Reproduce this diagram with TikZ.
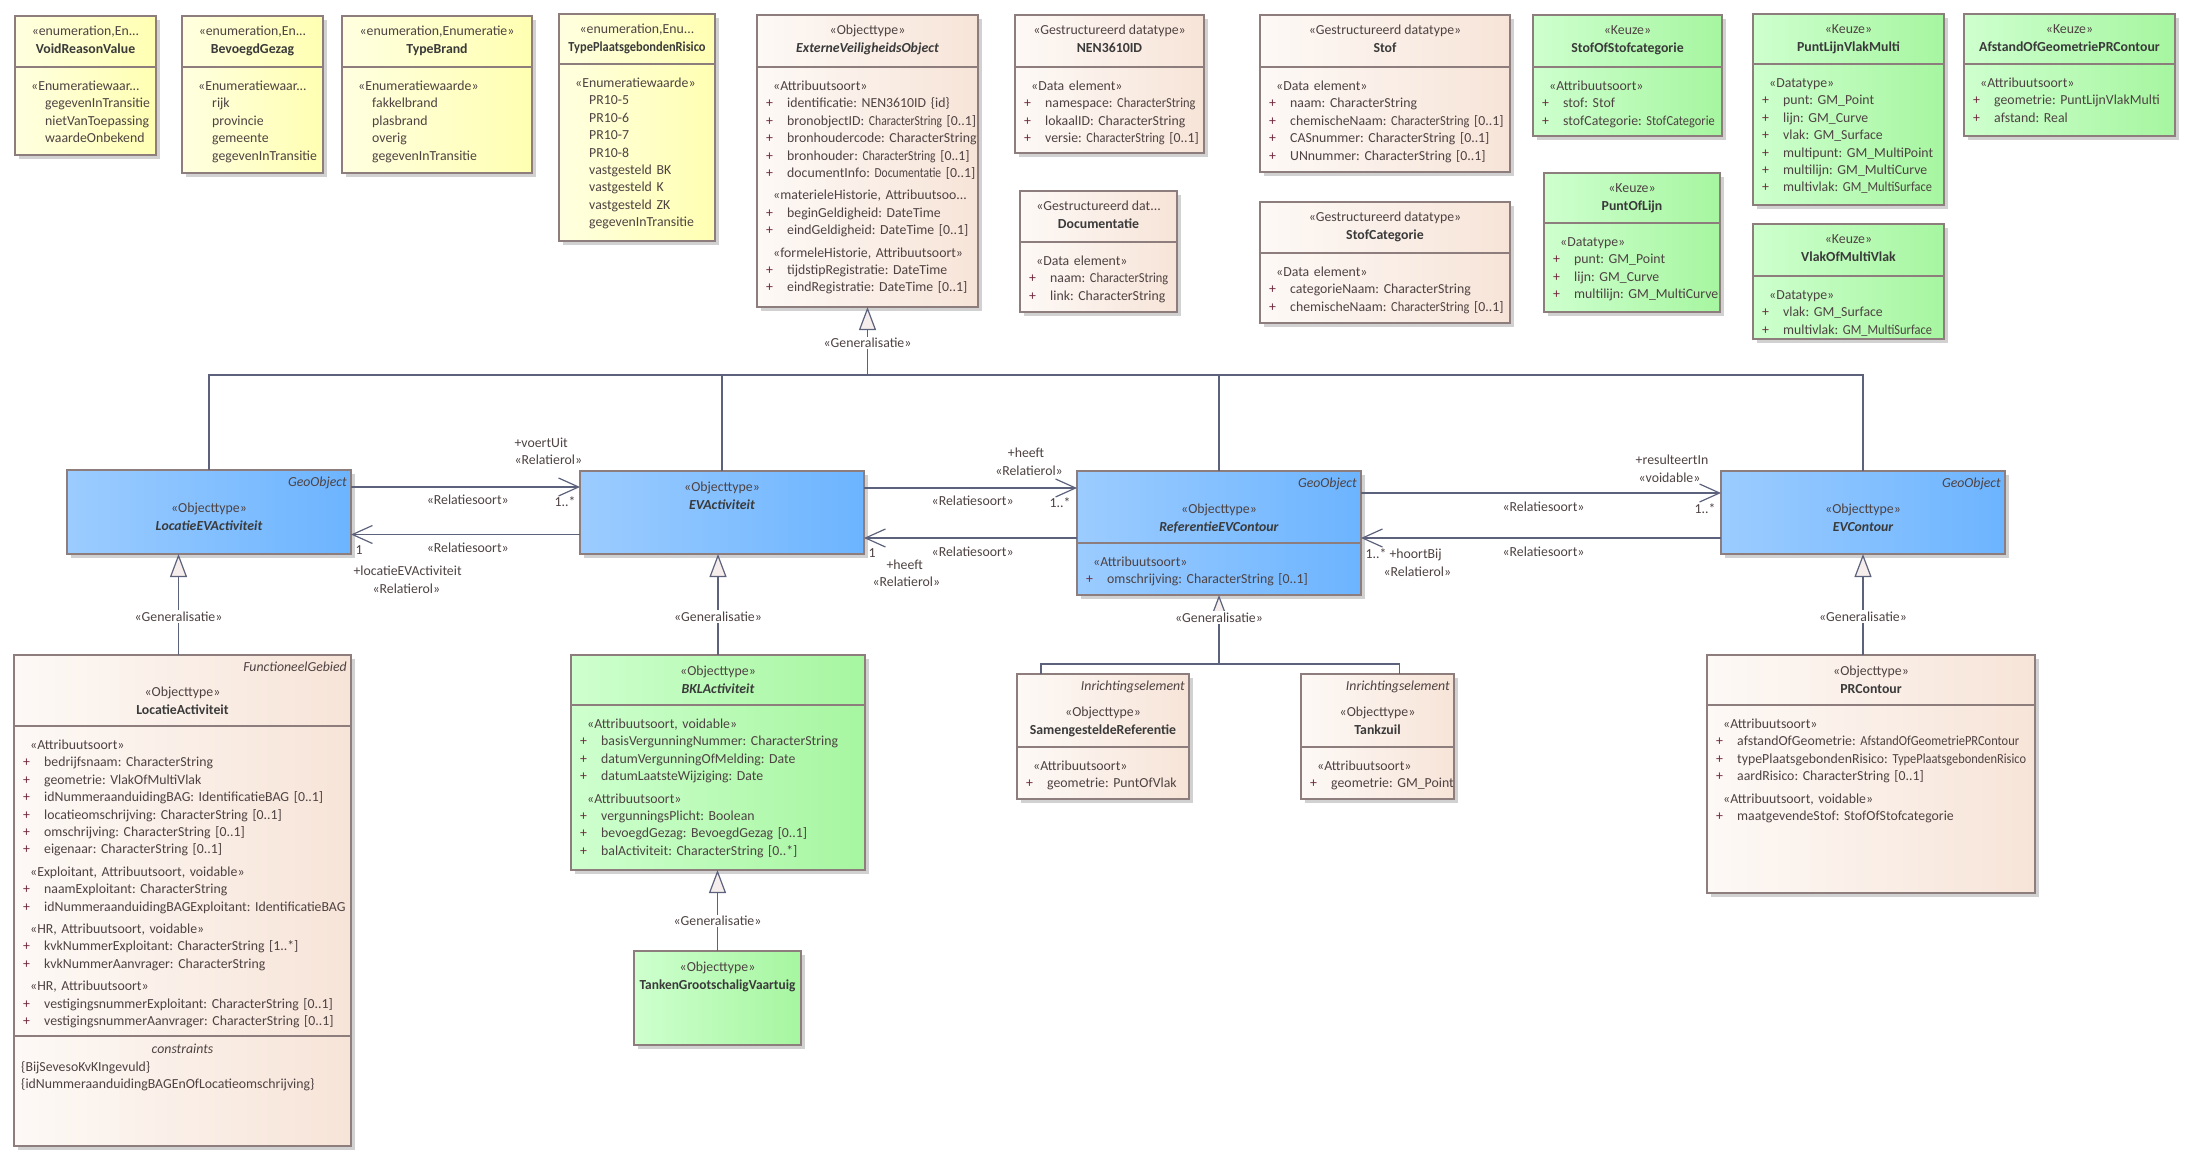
\documentclass[tikz,border=0pt]{standalone}
\usepackage{fontspec}
\setmainfont{Carlito}
\usepackage{graphicx}
\usetikzlibrary{arrows.meta,fit,shadows,positioning}
\frenchspacing

\definecolor{linec}{RGB}{92,98,124}
\definecolor{boxc}{RGB}{142,125,125}
\definecolor{textc}{RGB}{78,66,66}
\definecolor{namec}{RGB}{58,58,58}
\definecolor{plusc}{RGB}{112,40,62}
\definecolor{enumL}{RGB}{255,255,224}
\definecolor{enumR}{RGB}{255,255,178}
\definecolor{dataL}{RGB}{253,249,246}
\definecolor{dataR}{RGB}{247,228,216}
\definecolor{keuzeL}{RGB}{206,255,206}
\definecolor{keuzeR}{RGB}{166,246,160}
\definecolor{geoL}{RGB}{156,204,255}
\definecolor{geoR}{RGB}{108,180,255}
\definecolor{trifill}{RGB}{246,238,236}

% class header: stereotype + name
\newcommand\umlhead[5][cname]{%
  \node[stereo] (#2-s) at ([yshift=-#3pt]#2.north) {#4};
  \node[#1] (#2-n) at ([yshift=-18pt]#2-s.base) {#5};}
\newcommand\umltag[2]{\node[tag] (#1-t) at ([xshift=-4pt,yshift=-16pt]#1.north east) {#2};}
\newcommand\umlsep[2]{\draw[sepline] (#1.west |- 0,#2) -- (#1.east |- 0,#2);}
\newcommand\umlst[1]{\hspace*{7pt}#1}
\newcommand\umlat[1]{\makebox[21pt][l]{\textcolor{plusc}{+}}#1}
\newcommand\umlval[1]{\hspace*{21pt}#1}
\newcommand\sq[2][0.9]{\scalebox{#1}[1]{#2}}

\begin{document}
\begin{tikzpicture}[x=1pt, y=-1pt,
  umlbox/.style={draw=boxc, line width=1.2pt, inner sep=0pt, outer sep=0pt,
    general shadow={fill=black!18, shadow xshift=4pt, shadow yshift=-4pt}},
  enumbox/.style={umlbox, left color=enumL, right color=enumR},
  databox/.style={umlbox, left color=dataL, right color=dataR},
  keuzebox/.style={umlbox, left color=keuzeL, right color=keuzeR},
  geobox/.style={umlbox, left color=geoL, right color=geoR},
  txt/.style={inner sep=0pt, text=textc, font=\fontsize{13.8}{17.4}\selectfont},
  stereo/.style={txt, anchor=base},
  cname/.style={txt, anchor=base, text=namec, font=\fontsize{13.8}{17.4}\selectfont\bfseries},
  aname/.style={cname, font=\fontsize{13.8}{17.4}\selectfont\bfseries\itshape},
  tag/.style={txt, anchor=base east, font=\fontsize{13.8}{17.4}\selectfont\itshape},
  body/.style={txt, anchor=base west, text width=400pt, align=left},
  sepline/.style={draw=boxc, line width=1.2pt},
  genline/.style={draw=linec, line width=1.2pt},
  gen/.style={genline, -{Triangle[length=23pt, width=17pt, fill=trifill]}},
  assoc/.style={draw=linec, line width=1.2pt, -{Straight Barb[length=20pt, width=18pt]}},
  lbl/.style={txt, anchor=base},
  gl/.style={txt, fill=white, inner sep=1.5pt}
]
\fill[white, use as bounding box] (0,0) rectangle (2195,1174);

% enumerations
\node[enumbox, fit={(15,16) (156,155)}] (vrv) {};
\umlhead{vrv}{20}{«enumeration,En...}{VoidReasonValue}
\umlsep{vrv}{67}
\node[body] (vrv-b) at (24,90.5) {\umlst{«Enumeratiewaar...}\\
  \umlval{gegevenInTransitie}\\ \umlval{nietVanToepassing}\\ \umlval{waardeOnbekend}};

\node[enumbox, fit={(182,16) (323,173)}] (bg) {};
\umlhead{bg}{20}{«enumeration,En...}{BevoegdGezag}
\umlsep{bg}{67}
\node[body] (bg-b) at (191,90.5) {\umlst{«Enumeratiewaar...}\\
  \umlval{rijk}\\ \umlval{provincie}\\ \umlval{gemeente}\\ \umlval{gegevenInTransitie}};

\node[enumbox, fit={(342,16) (532,173)}] (tb) {};
\umlhead{tb}{20}{«enumeration,Enumeratie»}{TypeBrand}
\umlsep{tb}{67}
\node[body] (tb-b) at (351,90.5) {\umlst{«Enumeratiewaarde»}\\
  \umlval{fakkelbrand}\\ \umlval{plasbrand}\\ \umlval{overig}\\ \umlval{gegevenInTransitie}};

\node[enumbox, fit={(559,14) (715,241)}] (tpr) {};
\umlhead{tpr}{20}{«enumeration,Enu...}{\sq{TypePlaatsgebondenRisico}}
\umlsep{tpr}{64}
\node[body] (tpr-b) at (568,87.5) {\umlst{«Enumeratiewaarde»}\\
  \umlval{PR10-5}\\ \umlval{PR10-6}\\ \umlval{PR10-7}\\ \umlval{PR10-8}\\
  \umlval{vastgesteld BK}\\ \umlval{vastgesteld K}\\ \umlval{vastgesteld ZK}\\
  \umlval{gegevenInTransitie}};

% datatypes
\node[databox, fit={(757,15) (978,307)}] (evo) {};
\umlhead[aname]{evo}{20}{«Objecttype»}{ExterneVeiligheidsObject}
\umlsep{evo}{67}
\node[body] (evo-b) at (766,90.5) {\umlst{«Attribuutsoort»}\\
  \umlat{identificatie: NEN3610ID \{id\}}\\
  \umlat{bronobjectID: \sq[0.84]{CharacterString} [0..1]}\\
  \umlat{bronhoudercode: CharacterString}\\
  \umlat{bronhouder: \sq[0.84]{CharacterString} [0..1]}\\
  \umlat{documentInfo: \sq[0.84]{Documentatie} [0..1]}\\[5pt]
  \umlst{«materieleHistorie, Attribuutsoo...}\\
  \umlat{beginGeldigheid: DateTime}\\
  \umlat{eindGeldigheid: DateTime [0..1]}\\[5pt]
  \umlst{«formeleHistorie, Attribuutsoort»}\\
  \umlat{tijdstipRegistratie: DateTime}\\
  \umlat{eindRegistratie: DateTime [0..1]}};

\node[databox, fit={(1015,15) (1204,153)}] (nen) {};
\umlhead{nen}{20}{«Gestructureerd datatype»}{NEN3610ID}
\umlsep{nen}{67}
\node[body] (nen-b) at (1024,90.5) {\umlst{«Data element»}\\
  \umlat{namespace: \sq{CharacterString}}\\ \umlat{lokaalID: CharacterString}\\
  \umlat{versie: \sq{CharacterString} [0..1]}};

\node[databox, fit={(1020,191) (1177,312)}] (doc) {};
\umlhead{doc}{20}{«Gestructureerd dat...}{Documentatie}
\umlsep{doc}{242}
\node[body] (doc-b) at (1029,265.5) {\umlst{«Data element»}\\
  \umlat{naam: \sq{CharacterString}}\\ \umlat{link: CharacterString}};

\node[databox, fit={(1260,15) (1510,172)}] (stof) {};
\umlhead{stof}{20}{«Gestructureerd datatype»}{Stof}
\umlsep{stof}{67}
\node[body] (stof-b) at (1269,90.5) {\umlst{«Data element»}\\
  \umlat{naam: CharacterString}\\ \umlat{chemischeNaam: \sq{CharacterString} [0..1]}\\
  \umlat{CASnummer: CharacterString [0..1]}\\ \umlat{UNnummer: CharacterString [0..1]}};

\node[databox, fit={(1260,202) (1510,323)}] (stcat) {};
\umlhead{stcat}{20}{«Gestructureerd datatype»}{StofCategorie}
\umlsep{stcat}{253}
\node[body] (stcat-b) at (1269,276.5) {\umlst{«Data element»}\\
  \umlat{categorieNaam: CharacterString}\\ \umlat{chemischeNaam: \sq{CharacterString} [0..1]}};

% keuze
\node[keuzebox, fit={(1533,15) (1722,136)}] (soc) {};
\umlhead{soc}{20}{«Keuze»}{StofOfStofcategorie}
\umlsep{soc}{67}
\node[body] (soc-b) at (1542,90.5) {\umlst{«Attribuutsoort»}\\
  \umlat{stof: Stof}\\ \umlat{stofCategorie: \sq{StofCategorie}}};

\node[keuzebox, fit={(1544,173) (1720,312)}] (pol) {};
\umlhead{pol}{20}{«Keuze»}{PuntOfLijn}
\umlsep{pol}{223}
\node[body] (pol-b) at (1553,246.5) {\umlst{«Datatype»}\\
  \umlat{punt: GM\_Point}\\ \umlat{lijn: GM\_Curve}\\ \umlat{multilijn: GM\_MultiCurve}};

\node[keuzebox, fit={(1753,14) (1944,205)}] (plvm) {};
\umlhead{plvm}{20}{«Keuze»}{PuntLijnVlakMulti}
\umlsep{plvm}{64}
\node[body] (plvm-b) at (1762,87.5) {\umlst{«Datatype»}\\
  \umlat{punt: GM\_Point}\\ \umlat{lijn: GM\_Curve}\\ \umlat{vlak: GM\_Surface}\\
  \umlat{multipunt: GM\_MultiPoint}\\ \umlat{multilijn: GM\_MultiCurve}\\
  \umlat{multivlak: \sq{GM\_MultiSurface}}};

\node[keuzebox, fit={(1753,224) (1944,339)}] (vomv) {};
\umlhead{vomv}{20}{«Keuze»}{VlakOfMultiVlak}
\umlsep{vomv}{276}
\node[body] (vomv-b) at (1762,299.5) {\umlst{«Datatype»}\\
  \umlat{vlak: GM\_Surface}\\ \umlat{multivlak: \sq{GM\_MultiSurface}}};

\node[keuzebox, fit={(1964,14) (2175,136)}] (agpr) {};
\umlhead{agpr}{20}{«Keuze»}{AfstandOfGeometriePRContour}
\umlsep{agpr}{64}
\node[body] (agpr-b) at (1973,87.5) {\umlst{«Attribuutsoort»}\\
  \umlat{geometrie: PuntLijnVlakMulti}\\ \umlat{afstand: Real}};

% geo objects
\node[geobox, fit={(67,470) (351,554)}] (leva) {};
\umltag{leva}{GeoObject}
\umlhead[aname]{leva}{42}{«Objecttype»}{LocatieEVActiviteit}

\node[geobox, fit={(580,471) (864,554)}] (eva) {};
\umlhead[aname]{eva}{20}{«Objecttype»}{EVActiviteit}

\node[geobox, fit={(1077,471) (1361,595)}] (refc) {};
\umltag{refc}{GeoObject}
\umlhead[aname]{refc}{42}{«Objecttype»}{ReferentieEVContour}
\umlsep{refc}{543}
\node[body] (refc-b) at (1086,566.5) {\umlst{«Attribuutsoort»}\\
  \umlat{omschrijving: CharacterString [0..1]}};

\node[geobox, fit={(1721,471) (2005,554)}] (evc) {};
\umltag{evc}{GeoObject}
\umlhead[aname]{evc}{42}{«Objecttype»}{EVContour}

% lower row
\node[databox, fit={(14,655) (351,1146)}] (la) {};
\umltag{la}{FunctioneelGebied}
\umlhead{la}{41}{«Objecttype»}{LocatieActiviteit}
\umlsep{la}{726}
\umlsep{la}{1036}
\node[body] (la-b) at (23,749.5) {\umlst{«Attribuutsoort»}\\
  \umlat{bedrijfsnaam: CharacterString}\\
  \umlat{geometrie: VlakOfMultiVlak}\\
  \umlat{idNummeraanduidingBAG: IdentificatieBAG [0..1]}\\
  \umlat{locatieomschrijving: CharacterString [0..1]}\\
  \umlat{omschrijving: CharacterString [0..1]}\\
  \umlat{eigenaar: CharacterString [0..1]}\\[5pt]
  \umlst{«Exploitant, Attribuutsoort, voidable»}\\
  \umlat{naamExploitant: CharacterString}\\
  \umlat{idNummeraanduidingBAGExploitant: IdentificatieBAG}\\[5pt]
  \umlst{«HR, Attribuutsoort, voidable»}\\
  \umlat{kvkNummerExploitant: CharacterString [1..*]}\\
  \umlat{kvkNummerAanvrager: CharacterString}\\[5pt]
  \umlst{«HR, Attribuutsoort»}\\
  \umlat{vestigingsnummerExploitant: CharacterString [0..1]}\\
  \umlat{vestigingsnummerAanvrager: CharacterString [0..1]}};
\node[stereo, font=\fontsize{13.8}{17.4}\selectfont\itshape] (la-c) at ([yshift=-17pt]la.center |- 0,1036) {constraints};
\node[body] (la-k) at (21,1071) {\{BijSevesoKvKIngevuld\}\\
  \{idNummeraanduidingBAGEnOfLocatieomschrijving\}};

\node[keuzebox, fit={(571,655) (865,870)}] (bkl) {};
\umlhead[aname]{bkl}{20}{«Objecttype»}{BKLActiviteit}
\umlsep{bkl}{705}
\node[body] (bkl-b) at (580,728.5) {\umlst{«Attribuutsoort, voidable»}\\
  \umlat{basisVergunningNummer: CharacterString}\\
  \umlat{datumVergunningOfMelding: Date}\\
  \umlat{datumLaatsteWijziging: Date}\\[5pt]
  \umlst{«Attribuutsoort»}\\
  \umlat{vergunningsPlicht: Boolean}\\
  \umlat{bevoegdGezag: BevoegdGezag [0..1]}\\
  \umlat{balActiviteit: CharacterString [0..*]}};

\node[keuzebox, fit={(634,951) (801,1045)}] (tgv) {};
\umlhead{tgv}{20}{«Objecttype»}{\sq[0.97]{TankenGrootschaligVaartuig}}

\node[databox, fit={(1017,674) (1189,799)}] (sr) {};
\umltag{sr}{Inrichtingselement}
\umlhead{sr}{42}{«Objecttype»}{SamengesteldeReferentie}
\umlsep{sr}{747}
\node[body] (sr-b) at (1026,770.5) {\umlst{«Attribuutsoort»}\\
  \umlat{geometrie: PuntOfVlak}};

\node[databox, fit={(1301,674) (1454,799)}] (tz) {};
\umltag{tz}{Inrichtingselement}
\umlhead{tz}{42}{«Objecttype»}{Tankzuil}
\umlsep{tz}{747}
\node[body] (tz-b) at (1310,770.5) {\umlst{«Attribuutsoort»}\\
  \umlat{geometrie: GM\_Point}};

\node[databox, fit={(1707,655) (2035,893)}] (prc) {};
\umlhead{prc}{20}{«Objecttype»}{PRContour}
\umlsep{prc}{705}
\node[body] (prc-b) at (1716,728.5) {\umlst{«Attribuutsoort»}\\
  \umlat{afstandOfGeometrie: \sq{AfstandOfGeometriePRContour}}\\
  \umlat{typePlaatsgebondenRisico: \sq{TypePlaatsgebondenRisico}}\\
  \umlat{aardRisico: CharacterString [0..1]}\\[5pt]
  \umlst{«Attribuutsoort, voidable»}\\
  \umlat{maatgevendeStof: StofOfStofcategorie}};

% generalisaties
\coordinate (jn) at ([yshift=-68pt]evo.south);
\draw[genline] (leva.north) |- (jn) -| (evc.north);
\draw[genline] (eva.north) -- (eva.north |- jn);
\draw[genline] (refc.north) -- (refc.north |- jn);
\draw[gen] (jn) -- (evo.south) node[gl, pos=.47] (g0) {«Generalisatie»};
\draw[gen] ([xshift=-4pt]la.north) -- ([xshift=-4pt]la.north |- leva.south) node[gl, pos=.38] (g1) {«Generalisatie»};
\draw[gen] (bkl.north) -- (bkl.north |- eva.south) node[gl, pos=.38] (g2) {«Generalisatie»};
\draw[gen] (tgv.north) -- (tgv.north |- bkl.south) node[gl, pos=.37] (g3) {«Generalisatie»};
\draw[gen] (evc.south |- prc.north) -- (evc.south) node[gl, pos=.38] (g4) {«Generalisatie»};
\coordinate (rj) at ([yshift=-69pt]refc.south);
\draw[genline] ([xshift=-62pt]sr.north) |- (rj) -| ([xshift=22pt]tz.north);
\draw[gen] (rj) -- (refc.south) node[gl, pos=.67] (g5) {«Generalisatie»};

% relaties
\draw[assoc] ([yshift=25pt]leva.east) -- ([yshift=25pt]leva.east -| eva.west)
  node[lbl, pos=.51, yshift=-17pt] (a1r) {«Relatiesoort»}
  node[lbl, pos=1, anchor=base east, xshift=-4pt, yshift=-19pt] (a1m) {1..*}
  node[lbl, pos=1, anchor=base west, xshift=-66pt, yshift=40pt] (a1n) {+voertUit}
  node[lbl, pos=1, anchor=base west, xshift=-66pt, yshift=23pt] (a1s) {«Relatierol»};
\draw[assoc] ([yshift=-22pt]eva.west) -- ([yshift=-22pt]eva.west -| leva.east)
  node[lbl, pos=.49, yshift=-18pt] (a2r) {«Relatiesoort»}
  node[lbl, pos=1, anchor=base west, xshift=4pt, yshift=-20pt] (a2m) {1}
  node[lbl, pos=1, anchor=base west, xshift=2pt, yshift=-41pt] (a2n) {+locatieEVActiviteit}
  node[lbl, pos=1, anchor=base west, xshift=21pt, yshift=-59pt] (a2s) {«Relatierol»};
\draw[assoc] ([yshift=24.5pt]eva.east) -- ([yshift=24.5pt]eva.east -| refc.west)
  node[lbl, pos=.51, yshift=-17pt] (a3r) {«Relatiesoort»}
  node[lbl, pos=1, anchor=base east, xshift=-6pt, yshift=-19pt] (a3m) {1..*}
  node[lbl, pos=1, xshift=-51pt, yshift=31pt] (a3n) {+heeft}
  node[lbl, pos=1, xshift=-48pt, yshift=13pt] (a3s) {«Relatierol»};
\draw[assoc] ([yshift=-25.5pt]eva.east -| refc.west) -- ([yshift=-25.5pt]eva.east)
  node[lbl, pos=.49, yshift=-18pt] (a4r) {«Relatiesoort»}
  node[lbl, pos=1, anchor=base west, xshift=4pt, yshift=-19.7pt] (a4m) {1}
  node[lbl, pos=1, anchor=base west, xshift=22pt, yshift=-31pt] (a4n) {+heeft}
  node[lbl, pos=1, anchor=base west, xshift=8pt, yshift=-48.7pt] (a4s) {«Relatierol»};
\draw[assoc] ([yshift=19.5pt]evc.west -| refc.east) -- ([yshift=19.5pt]evc.west)
  node[lbl, pos=.507, yshift=-18pt] (a5r) {«Relatiesoort»}
  node[lbl, pos=1, anchor=base east, xshift=-5pt, yshift=-20.3pt] (a5m) {1..*}
  node[lbl, pos=1, xshift=-49pt, yshift=29pt] (a5n) {+resulteertIn}
  node[lbl, pos=1, xshift=-51.5pt, yshift=11pt] (a5s) {«voidable»};
\draw[assoc] ([yshift=-25.5pt]evc.west) -- ([yshift=-25.5pt]evc.west -| refc.east)
  node[lbl, pos=.493, yshift=-18pt] (a6r) {«Relatiesoort»}
  node[lbl, pos=1, anchor=base west, xshift=4pt, yshift=-20.3pt] (a6m) {1..* +hoortBij}
  node[lbl, pos=1, anchor=base west, xshift=22pt, yshift=-38pt] (a6s) {«Relatierol»};
\end{tikzpicture}
\end{document}
